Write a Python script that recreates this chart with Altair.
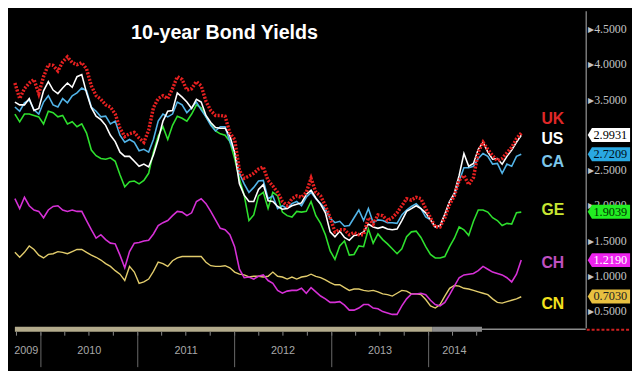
import altair as alt
import pandas as pd

# ---------------- data ----------------
dates = pd.date_range("2009-09-25", periods=107, freq="18D")

uk = [3.73,3.51,3.65,3.73,3.78,3.58,3.82,3.99,3.98,3.90,
      4.03,4.10,4.02,3.99,4.02,3.93,3.69,3.55,3.50,3.42,
      3.39,3.29,3.09,2.97,3.01,3.03,2.95,2.89,3.06,3.38,
      3.51,3.55,3.51,3.65,3.82,3.78,3.63,3.65,3.75,3.69,
      3.47,3.34,3.27,3.27,3.26,3.02,2.93,2.49,2.38,2.41,
      2.45,2.51,2.54,2.35,2.27,2.18,2.05,1.99,2.09,2.13,
      2.11,2.18,2.38,2.18,2.13,1.99,1.82,1.62,1.65,1.65,
      1.58,1.61,1.58,1.58,1.82,1.73,1.86,1.85,1.78,1.82,
      1.89,1.99,2.09,2.07,2.11,2.09,1.95,1.82,1.69,1.69,
      1.82,2.01,2.13,2.35,2.42,2.29,2.39,2.75,2.89,2.79,
      2.70,2.63,2.66,2.74,2.82,2.94,3.02]

us = [3.46,3.42,3.42,3.51,3.34,3.37,3.62,3.75,3.63,3.58,
      3.66,3.73,3.67,3.82,3.85,3.59,3.38,3.26,3.21,3.13,
      2.99,2.90,2.75,2.69,2.69,2.62,2.55,2.58,2.54,2.71,
      2.93,3.19,3.33,3.34,3.59,3.53,3.46,3.37,3.50,3.46,
      3.27,3.17,3.10,3.09,3.09,2.98,2.75,2.30,2.14,2.05,
      2.05,2.22,2.29,2.06,2.05,1.98,1.94,1.95,1.99,2.01,
      2.03,2.15,2.21,2.10,2.01,1.89,1.62,1.55,1.63,1.54,
      1.50,1.57,1.58,1.62,1.73,1.69,1.67,1.69,1.66,1.65,
      1.66,1.78,1.91,1.95,1.99,1.95,1.89,1.79,1.69,1.71,
      1.87,2.05,2.17,2.42,2.73,2.55,2.59,2.79,2.89,2.75,
      2.65,2.66,2.58,2.69,2.78,2.89,2.99]

ca = [3.39,3.33,3.45,3.49,3.35,3.29,3.46,3.55,3.42,3.39,
      3.51,3.45,3.55,3.59,3.66,3.62,3.39,3.33,3.25,3.26,
      3.15,3.19,2.99,2.89,2.93,2.89,2.77,2.79,2.75,2.93,
      3.19,3.29,3.25,3.29,3.46,3.42,3.31,3.38,3.46,3.35,
      3.25,3.13,3.05,3.11,3.11,2.90,2.75,2.45,2.30,2.18,
      2.25,2.34,2.35,2.09,2.13,1.95,1.99,1.95,2.02,2.05,
      1.99,2.11,2.18,2.09,2.02,1.94,1.81,1.75,1.77,1.70,
      1.71,1.82,1.93,1.78,1.95,1.75,1.79,1.78,1.75,1.75,
      1.74,1.86,1.93,1.98,2.02,1.95,1.83,1.79,1.69,1.70,
      1.86,2.05,2.14,2.34,2.53,2.53,2.55,2.66,2.73,2.69,
      2.58,2.59,2.45,2.58,2.55,2.69,2.72]

ge = [3.29,3.18,3.29,3.29,3.27,3.25,3.15,3.33,3.31,3.25,
      3.27,3.15,3.18,3.11,3.15,3.02,2.78,2.70,2.66,2.65,
      2.67,2.62,2.43,2.26,2.33,2.34,2.30,2.35,2.45,2.75,
      2.98,3.11,2.93,3.13,3.26,3.23,3.19,3.29,3.42,3.38,
      3.25,3.15,3.05,3.01,2.99,2.90,2.66,2.37,2.14,1.78,
      1.86,2.13,2.18,1.95,2.18,2.13,1.90,1.85,1.83,1.91,
      1.90,1.91,2.05,1.85,1.74,1.58,1.35,1.23,1.42,1.49,
      1.29,1.30,1.42,1.41,1.66,1.46,1.59,1.51,1.45,1.38,
      1.31,1.38,1.55,1.62,1.63,1.54,1.41,1.30,1.25,1.25,
      1.27,1.41,1.53,1.69,1.65,1.57,1.77,1.93,1.93,1.90,
      1.82,1.78,1.71,1.74,1.73,1.89,1.90]

ch = [2.09,1.95,2.11,1.99,1.93,1.91,1.82,1.93,1.98,1.99,
      1.93,1.91,1.93,1.91,1.91,1.78,1.65,1.53,1.58,1.51,
      1.46,1.45,1.29,1.11,1.34,1.46,1.47,1.49,1.50,1.59,
      1.71,1.75,1.78,1.85,1.91,1.90,1.85,1.89,2.05,2.09,
      2.02,1.91,1.79,1.67,1.65,1.58,1.41,1.09,0.97,0.98,
      0.95,0.99,1.01,0.93,0.89,0.79,0.75,0.78,0.79,0.79,
      0.82,0.75,0.83,0.77,0.71,0.67,0.62,0.62,0.63,0.58,
      0.51,0.51,0.54,0.59,0.59,0.54,0.53,0.49,0.47,0.45,
      0.45,0.57,0.67,0.74,0.74,0.75,0.73,0.65,0.59,0.57,
      0.62,0.73,0.85,0.97,1.01,1.02,1.03,1.07,1.13,1.09,
      1.05,1.03,1.01,0.97,0.91,1.02,1.22]

cn = [1.33,1.26,1.33,1.42,1.37,1.29,1.25,1.30,1.31,1.34,
      1.33,1.31,1.34,1.37,1.37,1.33,1.29,1.26,1.22,1.17,
      1.13,1.07,1.02,0.93,1.13,1.05,0.89,0.91,0.95,1.06,
      1.19,1.17,1.13,1.21,1.25,1.27,1.27,1.27,1.27,1.27,
      1.19,1.14,1.13,1.13,1.14,1.11,1.05,1.02,1.01,0.98,
      0.99,0.99,0.98,0.99,1.05,0.99,0.98,0.95,0.98,0.95,
      0.98,0.99,1.02,0.99,0.97,0.94,0.90,0.87,0.87,0.83,
      0.79,0.81,0.81,0.79,0.78,0.79,0.77,0.74,0.73,0.71,
      0.75,0.79,0.78,0.74,0.74,0.73,0.66,0.57,0.54,0.59,
      0.71,0.82,0.86,0.85,0.82,0.81,0.79,0.77,0.75,0.73,
      0.67,0.62,0.61,0.63,0.65,0.67,0.70]

countries = ["UK", "US", "CA", "GE", "CH", "CN"]
country_label_values = [3.22, 2.93, 2.61, 1.93, 1.18, 0.59]
country_colors = ["#e02828", "#ffffff", "#7cc6ea", "#c8e632", "#c050c0", "#f2e21e"]

tag_values = [2.9931, 2.7209, 1.9039, 1.2190, 0.7030]
tag_labels = ["2.9931", "2.7209", "1.9039", "1.2190", "0.7030"]
tag_fill = ["#ffffff", "#2aa8e2", "#22ee22", "#ee22ee", "#e8c040"]
tag_text = ["#000000", "#001020", "#003300", "#ffffff", "#222222"]

year_labels = ["2009", "2010", "2011", "2012", "2013", "2014"]
year_label_dates = ["2009-11-07", "2010-07-02", "2011-07-02", "2012-07-01", "2013-07-02", "2014-04-08"]
year_starts = ["2010-01-01", "2011-01-01", "2012-01-01", "2013-01-01", "2014-01-01"]
quarter_dates = [str(d.date()) for d in pd.date_range("2009-10-01", "2014-07-01", freq="QS")]

# 3.0000 is hidden behind the US value tag in the original
y_ticks = [0.5, 1.0, 1.5, 2.0, 2.5, 3.5, 4.0, 4.5]

# ---------------- layout / style ----------------
W, H = 580, 322
x_scale = alt.Scale(domain=[alt.DateTime(year=2009, month=9, date=25),
                            alt.DateTime(year=2015, month=8, date=16)])
y_scale = alt.Scale(domain=[0.26, 4.753], nice=False, zero=False)
y_axis = alt.Axis(orient="right", values=y_ticks, format=".4f",
                  labelExpr="'\u25b8' + datum.label", ticks=False, grid=False,
                  domainColor="#7a7a7a", domainWidth=1.5, labelColor="#c4c4c4",
                  labelFont="Liberation Serif", labelFontSize=12, labelPadding=2,
                  title=None)
X = alt.X("date:T", scale=x_scale, axis=None)
Y = alt.Y("value:Q", scale=y_scale, axis=y_axis)

layers = []

# bottom navigator band
band = pd.DataFrame({"start": ["2009-09-25", "2014-01-14"],
                     "end": ["2014-01-14", "2014-07-21"],
                     "c": ["#b3ab8c", "#8c8c8c"]})
layers.append(alt.Chart(band).mark_rect().encode(
    x=alt.X("start:T", scale=x_scale, axis=None), x2="end:T",
    y=alt.value(H - 1), y2=alt.value(H + 4), color=alt.Color("c:N", scale=None)))
thin = pd.DataFrame({"start": ["2014-07-21"], "end": ["2015-08-16"]})
layers.append(alt.Chart(thin).mark_rule(color="#8c8c8c", strokeWidth=1.5).encode(
    x=alt.X("start:T", scale=x_scale, axis=None), x2="end:T", y=alt.value(H + 1.5)))
layers.append(alt.Chart(thin).mark_rule(color="#d02020", strokeWidth=2, strokeDash=[3, 2]).encode(
    x=alt.value(W + 1), x2=alt.value(W + 46), y=alt.value(H + 2)))

# quarter ticks and year separators
qdf = pd.DataFrame({"date": quarter_dates})
layers.append(alt.Chart(qdf).mark_rule(color="#8a8a8a").encode(
    x=X, y=alt.value(H + 4), y2=alt.value(H + 8)))
ydf = pd.DataFrame({"date": year_starts})
layers.append(alt.Chart(ydf).mark_rule(color="#6a6a6a").encode(
    x=X, y=alt.value(H + 5), y2=alt.value(H + 40)))
ldf = pd.DataFrame({"date": year_label_dates, "label": year_labels})
layers.append(alt.Chart(ldf).mark_text(color="#a8a8a8", font="Liberation Sans",
                                       fontSize=11, baseline="middle").encode(
    x=X, y=alt.value(H + 24), text="label:N"))

# series lines
series = {"CN": cn, "CH": ch, "GE": ge, "CA": ca, "US": us, "UK": uk}
line_style = {
    "CN": dict(color="#e2cc6c", strokeWidth=1.4),
    "CH": dict(color="#d630d6", strokeWidth=1.6),
    "GE": dict(color="#2ee02e", strokeWidth=1.6),
    "CA": dict(color="#52b4e8", strokeWidth=1.6),
    "US": dict(color="#ffffff", strokeWidth=1.6),
    "UK": dict(color="#e62020", strokeWidth=3.5, strokeDash=[2, 1.5]),
}
for name, vals in series.items():
    df = pd.DataFrame({"date": dates, "value": vals, "country": name})
    layers.append(alt.Chart(df).mark_line(**line_style[name]).encode(x=X, y=Y))

# country labels
cdf = pd.DataFrame({"country": countries, "value": country_label_values, "c": country_colors})
layers.append(alt.Chart(cdf).mark_text(font="Liberation Sans", fontWeight="bold", fontSize=16,
                                       align="left", baseline="middle").encode(
    x=alt.value(535), y=Y, text="country:N", color=alt.Color("c:N", scale=None)))

# value tags on the axis
tag_shape = "M -1 0 L -0.8 -0.33 L 1 -0.33 L 1 0.33 L -0.8 0.33 Z"
tdf = pd.DataFrame({"value": tag_values, "label": tag_labels, "bg": tag_fill, "fg": tag_text})
layers.append(alt.Chart(tdf).mark_point(shape=tag_shape, size=1849, filled=True, opacity=1,
                                        strokeWidth=0).encode(
    x=alt.value(W + 23.5), y=Y, color=alt.Color("bg:N", scale=None)))
layers.append(alt.Chart(tdf).mark_text(font="Liberation Serif", fontSize=12.5,
                                       align="center", baseline="middle").encode(
    x=alt.value(W + 25), y=Y, text="label:N", color=alt.Color("fg:N", scale=None)))

# title
tt = pd.DataFrame({"t": ["10-year Bond Yields"]})
layers.append(alt.Chart(tt).mark_text(font="Liberation Sans", fontWeight="bold", fontSize=20,
                                      color="#ffffff", align="center", baseline="middle").encode(
    x=alt.value(213), y=alt.value(23), text="t:N"))

chart = alt.layer(*layers).properties(
    width=W, height=H, background="#000000", padding=0
).configure_view(stroke=None)

chart.save("out.html", embed_options={"renderer": "svg", "actions": False})
